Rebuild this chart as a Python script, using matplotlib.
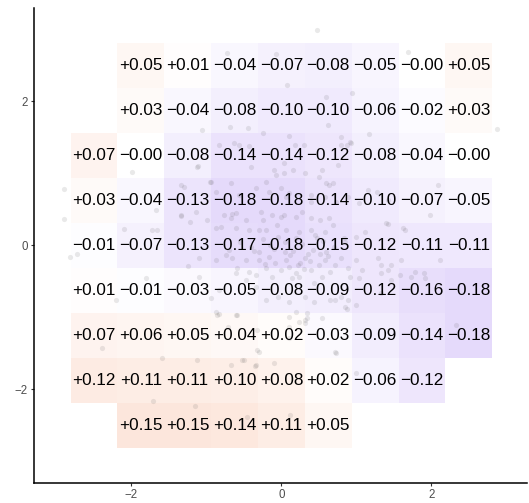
import numpy as np
import matplotlib
matplotlib.use("Agg")
import matplotlib.pyplot as plt
from matplotlib.colors import LinearSegmentedColormap, Normalize

plt.rcParams['font.family'] = ['Liberation Sans', 'DejaVu Sans']

# Bin centres (grid step) and the smoothed value in each bin; NaN = empty bin
bin_step = 0.625
col_index = [-4, -3, -2, -1, 0, 1, 2, 3, 4]
row_index = [4, 3, 2, 1, 0, -1, -2, -3, -4]   # top row first
nan = np.nan
cell_values = [
    [nan, 0.05, 0.01, -0.04, -0.07, -0.08, -0.05, -0.0, 0.05],
    [nan, 0.03, -0.04, -0.08, -0.10, -0.10, -0.06, -0.02, 0.03],
    [0.07, -0.0, -0.08, -0.14, -0.14, -0.12, -0.08, -0.04, -0.0],
    [0.03, -0.04, -0.13, -0.18, -0.18, -0.14, -0.10, -0.07, -0.05],
    [-0.01, -0.07, -0.13, -0.17, -0.18, -0.15, -0.12, -0.11, -0.11],
    [0.01, -0.01, -0.03, -0.05, -0.08, -0.09, -0.12, -0.16, -0.18],
    [0.07, 0.06, 0.05, 0.04, 0.02, -0.03, -0.09, -0.14, -0.18],
    [0.12, 0.11, 0.11, 0.10, 0.08, 0.02, -0.06, -0.12, nan],
    [nan, 0.15, 0.15, 0.14, 0.11, 0.05, nan, nan, nan],
]

# Raw observations shown behind the bins
pts_x = [
    0.48, -0.72, -0.07, 0.07, 0.60, 0.94, 1.69, 2.87, -1.06, -0.69, -0.44, -0.24,
    -1.99, -1.11, -0.95, -1.30, -2.90, -2.90, -2.10, -1.72, -1.34, -1.22, -0.66,
    0.10, 0.62, 1.17, 0.63, 2.09, 1.98, 1.40, 1.65, -2.82, -2.72, -2.20, -1.80,
    -2.39, -1.59, -1.12, -1.71, -1.15, -1.10, -0.86, -0.61, -0.71, -0.46, -0.67,
    -0.50, -0.35, -0.33, 0.12, -0.10, 0.10, 0.23, 0.34, 0.73, 0.99, 0.87, 0.72,
    1.03, 1.33, 1.46, 1.58, 1.90, 2.33, 2.12, 0.80, 0.92,
    0.18, 0.30, 0.79, 0.87, 0.93, 0.03, 0.16, 0.32, 0.54, 0.50, 0.76, 0.69, 0.60,
    0.10, 0.39, 0.40, 0.58, 0.73, 0.89, 1.03, 1.16, 1.27, 1.42, 0.04, 0.19, 0.27,
    0.40, 0.52, 0.63, 0.69, 1.12, 1.42, 1.62, 0.06, 0.23, 0.39, 0.45, 0.58, 0.83,
    0.99,
    -0.63, -0.57, -0.83, -0.43, -0.41, -0.10, 0.03, -0.07, -1.12, -0.94, -1.34,
    -0.87, -0.67, -0.57, -0.34, -0.20, -0.17, -0.01, 0.06, -1.34, -1.14, -0.99,
    -0.77, -0.81, -0.67, -0.61, -0.47, -0.27, -0.24, -0.13, -0.06, 0.00, -0.61,
    -0.43, -0.30, -0.20, -0.87, -1.66, -1.67,
    -1.24, -1.10, -0.87, -0.74, -0.66, -0.59, -0.47, -0.43, -0.34, -0.30, -0.21,
    -0.17, -0.08, -0.01, 0.06, 0.10, 0.19, 0.25, 0.32, 0.40, 0.50, 0.58, 0.65,
    0.72, 0.80, 0.89, 1.00, 1.07, 1.29, 1.33, 1.42, 1.60, 1.78,
    -0.94, -0.83, -0.61, -0.47, -0.34, -0.21, -0.13, -0.04, 0.10, 0.23, 0.32,
    0.43, 0.54, 0.65, 0.79, 0.89, 0.91, 1.33, 1.46, 1.73, 1.92,
    -0.87, -0.59, 0.19, 0.32, 0.54, -0.33, 0.10,
    -0.55, -0.40, -0.25, -0.10, 0.05, 0.15, 0.28, 0.42, 0.55, 0.70, 0.85, -0.70,
    0.20, -0.05, 0.35, 0.60, -0.30, 0.12, 0.48, -0.15,
    -0.83, -0.30, 0.10, 0.32, 0.34, 0.72, 0.85, 1.00, -0.53, -0.34,
    0.22, 0.38, 0.05, -0.22, 0.30, 0.52, 0.14, -0.36, 0.44, 0.62,
]
pts_y = [
    2.98, 2.67, 2.66, 2.22, 2.05, 2.11, 2.68, 1.61, 1.60, 1.64, 1.63, 1.56,
    1.02, 1.10, 0.88, 0.81, 0.78, 0.37, 0.22, 0.21, 0.40, 0.32, 0.44,
    1.51, 1.67, 1.54, 0.83, 0.83, 0.42, 0.31, 0.21, -0.16, -0.12, -0.76, -0.45,
    -1.43, -1.56, -1.59, -2.16, -2.23, -0.44, -0.97, -0.97, -1.13, -2.38, -1.66,
    -1.59, -1.68, -1.45, -2.36, -1.63, -1.00, -1.07, -1.01, -1.50, -1.77, -0.89, -0.76,
    -0.45, -0.39, -0.27, -0.41, -0.39, -1.11, -0.21, 1.39, 1.43,
    1.39, 1.39, 1.50, 1.39, 1.42, 1.00, 1.04, 1.00, 1.04, 0.95, 1.11, 0.87, 0.86,
    0.72, 0.70, 0.60, 0.67, 0.60, 0.67, 0.58, 0.77, 0.74, 0.63, 0.42, 0.39, 0.46,
    0.38, 0.35, 0.38, 0.28, 0.18, 0.29, 0.24, 0.21, 0.18, 0.21, 0.14, 0.18, 0.10,
    0.11,
    1.42, 1.39, 1.39, 1.38, 1.08, 1.04, 1.14, 0.97, 1.08, 0.88, 0.84,
    0.74, 0.86, 0.70, 0.79, 0.88, 0.74, 0.79, 0.67, 0.42, 0.46, 0.35,
    0.42, 0.25, 0.38, 0.45, 0.35, 0.46, 0.35, 0.42, 0.28, 0.39, 0.24,
    0.21, 0.21, 0.21, 0.24, 0.21, 0.49,
    -0.29, -0.18, -0.21, -0.14, -0.18, -0.32, -0.21, -0.37, -0.41, -0.21, -0.32,
    -0.16, -0.25, -0.34, -0.21, -0.30, -0.39, -0.25, -0.18, -0.34, -0.27, -0.21, -0.37,
    -0.27, -0.18, -0.32, -0.21, -0.34, -0.18, -0.27, -0.34, -0.21, -0.37,
    -0.73, -0.62, -0.39, -0.48, -0.58, -0.76, -0.44, -0.72, -0.79, -0.44, -0.72,
    -0.79, -0.44, -0.76, -0.72, -0.76, -0.44, -0.67, -0.48, -0.44, -0.46,
    -0.93, -0.97, -0.93, -1.04, -1.01, -1.18, -1.29,
    0.05, -0.02, 0.08, -0.05, 0.05, -0.08, 0.02, -0.06, 0.06, -0.03, 0.04, -0.06,
    0.10, 0.12, -0.12, -0.10, -0.10, -0.14, 0.10, 0.00,
    -0.95, -1.48, -1.13, -1.08, -0.94, -1.48, -0.86, -0.83, -1.59, -1.66,
    -0.28, -0.22, -0.10, -0.26, -0.33, -0.12, -0.45, -0.08, -0.52, -0.15,
]

cmap = LinearSegmentedColormap.from_list(
    "bins", ["#E5DAFB", "#FFFFFF", "#FCE1D5"])
norm = Normalize(vmin=-0.18, vmax=0.18)

fig = plt.figure(figsize=(5.29, 5.03), dpi=100)
ax = fig.add_axes([0.0643, 0.0398, 0.931, 0.944])

# bins
vals = np.array(cell_values, dtype=float)
x_centres = np.array(col_index) * bin_step
y_centres = np.array(row_index) * bin_step
for r, yc in enumerate(y_centres):
    for c, xc in enumerate(x_centres):
        v = vals[r, c]
        if np.isnan(v):
            continue
        ax.add_patch(plt.Rectangle((xc - bin_step / 2, yc - bin_step / 2),
                                   bin_step, bin_step, facecolor=cmap(norm(v)),
                                   edgecolor='none', zorder=1))

ax.scatter(pts_x, pts_y, s=14, color='#555555', alpha=0.13,
           linewidths=0, zorder=2)

for r, yc in enumerate(y_centres):
    for c, xc in enumerate(x_centres):
        v = vals[r, c]
        if np.isnan(v):
            continue
        label = f"{v:+.2f}".replace('-', '\u2212')
        ax.text(xc, yc, label, ha='center', va='center', fontsize=12.3,
                color='black', zorder=3)

ax.set_xlim(-3.30, 3.27)
ax.set_ylim(-3.30, 3.29)
ax.set_xticks([-2, 0, 2])
ax.set_yticks([-2, 0, 2])
ax.set_xticklabels(['\u22122', '0', '2'])
ax.set_yticklabels(['\u22122', '0', '2'])
ax.tick_params(length=2.5, width=0.8, color='#333333', labelcolor='#4D4D4D',
               labelsize=8.3, pad=2)
for side in ['top', 'right']:
    ax.spines[side].set_visible(False)
for side in ['left', 'bottom']:
    ax.spines[side].set_linewidth(1.1)
    ax.spines[side].set_color('black')

fig.savefig("out.png", dpi=100)
